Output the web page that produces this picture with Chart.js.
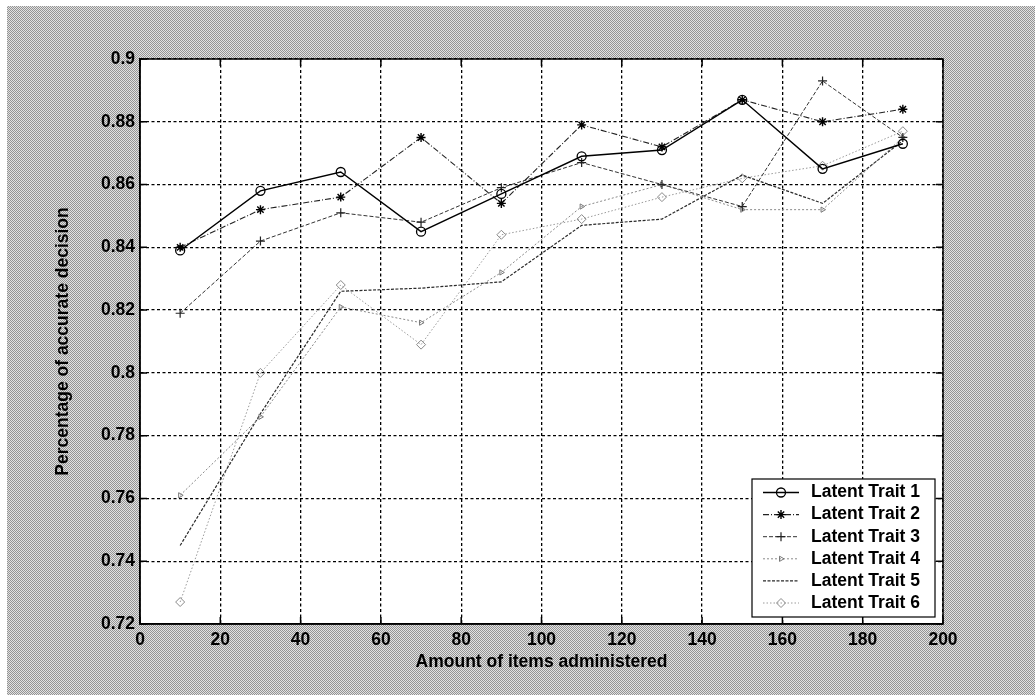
<!DOCTYPE html>
<html>
<head>
<meta charset="utf-8">
<script src="https://cdn.jsdelivr.net/npm/chart.js"></script>
<style>
html, body { margin: 0; padding: 0; background: #fff; }
#wrap { position: relative; width: 1035px; height: 695px; overflow: hidden; }
#bg {
  position: absolute; left: 7px; top: 6px; right: 0; bottom: 0;
  background-color: #b9b9b9;
  background-image: repeating-conic-gradient(#949494 0 25%, #e2e2e2 0 50%);
  background-size: 2px 2px;
}
canvas { position: absolute; left: 0; top: 0; }
</style>
</head>
<body>
<div id="wrap"><div id="bg"></div><canvas id="chart" width="1035" height="695"></canvas></div>
<script>
// values
const xValues = [10, 30, 50, 70, 90, 110, 130, 150, 170, 190];
const trait1 = [0.839, 0.858, 0.864, 0.845, 0.857, 0.869, 0.871, 0.887, 0.865, 0.873];
const trait2 = [0.840, 0.852, 0.856, 0.875, 0.854, 0.879, 0.872, 0.887, 0.880, 0.884];
const trait3 = [0.819, 0.842, 0.851, 0.848, 0.859, 0.867, 0.860, 0.853, 0.893, 0.875];
const trait4 = [0.761, 0.786, 0.821, 0.816, 0.832, 0.853, 0.860, 0.852, 0.852, 0.875];
const trait5 = [0.745, 0.787, 0.826, 0.827, 0.829, 0.847, 0.849, 0.863, 0.854, 0.874];
const trait6 = [0.727, 0.800, 0.828, 0.809, 0.844, 0.849, 0.856, 0.862, 0.866, 0.877];
const seriesLabels = ['Latent Trait 1', 'Latent Trait 2', 'Latent Trait 3', 'Latent Trait 4', 'Latent Trait 5', 'Latent Trait 6'];
const xTicks = [0, 20, 40, 60, 80, 100, 120, 140, 160, 180, 200];
const yTicks = [0.72, 0.74, 0.76, 0.78, 0.8, 0.82, 0.84, 0.86, 0.88, 0.9];

const FONT = { family: '"Liberation Sans", Arial, sans-serif', size: 17.5, weight: 'bold' };

function pts(arr) {
  return xValues.map((x, i) => ({ x: x, y: arr[i] }));
}

// white plot area, frame and inward ticks like matlab
const frame = {
  id: 'frame',
  beforeDraw(chart) {
    const { ctx, chartArea: a } = chart;
    ctx.save();
    ctx.fillStyle = '#fff';
    ctx.fillRect(a.left, a.top, a.width, a.height);
    ctx.restore();
  },
  afterDatasetsDraw(chart) {
    const { ctx, chartArea: a, scales } = chart;
    ctx.save();
    ctx.strokeStyle = '#000';
    ctx.lineWidth = 1.5;
    ctx.strokeRect(a.left, a.top, a.width, a.height);
    ctx.beginPath();
    xTicks.forEach(v => {
      const px = scales.x.getPixelForValue(v);
      ctx.moveTo(px, a.bottom); ctx.lineTo(px, a.bottom - 7);
      ctx.moveTo(px, a.top); ctx.lineTo(px, a.top + 7);
    });
    yTicks.forEach(v => {
      const py = scales.y.getPixelForValue(v);
      ctx.moveTo(a.left, py); ctx.lineTo(a.left + 7, py);
      ctx.moveTo(a.right, py); ctx.lineTo(a.right - 7, py);
    });
    ctx.stroke();
    ctx.restore();
  }
};

// legend box in lower right corner, line sample + marker
const boxLegend = {
  id: 'boxLegend',
  afterDraw(chart) {
    const { ctx, chartArea: a } = chart;
    const w = 183, h = 138;
    const left = a.right - 8 - w, top = a.bottom - 7 - h;
    ctx.save();
    ctx.fillStyle = '#fff';
    ctx.fillRect(left, top, w, h);
    ctx.strokeStyle = '#000';
    ctx.lineWidth = 1.2;
    ctx.strokeRect(left, top, w, h);
    chart.data.datasets.forEach((ds, i) => {
      const cy = top + 13.5 + i * 22.1;
      ctx.save();
      ctx.strokeStyle = ds.borderColor;
      ctx.lineWidth = ds.borderWidth;
      ctx.setLineDash(ds.borderDash || []);
      ctx.beginPath();
      ctx.moveTo(left + 11, cy);
      ctx.lineTo(left + 47, cy);
      ctx.stroke();
      ctx.setLineDash([]);
      if (ds.pointRadius > 0) {
        ctx.strokeStyle = ds.pointBorderColor;
        ctx.fillStyle = ds.pointBackgroundColor;
        ctx.lineWidth = ds.pointBorderWidth;
        Chart.helpers.drawPoint(ctx, {
          pointStyle: ds.pointStyle, rotation: ds.pointRotation || 0,
          radius: ds.pointRadius, borderWidth: ds.pointBorderWidth
        }, left + 29, cy);
      }
      ctx.restore();
      ctx.fillStyle = '#000';
      ctx.font = 'bold 17.5px "Liberation Sans", Arial, sans-serif';
      ctx.textBaseline = 'middle';
      ctx.fillText(ds.label, left + 59, cy);
    });
    ctx.restore();
  }
};

new Chart(document.getElementById('chart'), {
  type: 'line',
  data: {
    datasets: [
      { label: seriesLabels[0], data: pts(trait1), borderColor: '#000', borderWidth: 1.4,
        pointStyle: 'circle', pointRadius: 4.5, pointBorderColor: '#000', pointBackgroundColor: 'transparent', pointBorderWidth: 1.3 },
      { label: seriesLabels[1], data: pts(trait2), borderColor: '#222', borderWidth: 1.1, borderDash: [6, 2, 1, 2],
        pointStyle: 'star', pointRadius: 4.5, pointBorderColor: '#000', pointBackgroundColor: 'transparent', pointBorderWidth: 1.4 },
      { label: seriesLabels[2], data: pts(trait3), borderColor: '#333', borderWidth: 1, borderDash: [4, 2],
        pointStyle: 'cross', pointRadius: 4.5, pointBorderColor: '#222', pointBackgroundColor: 'transparent', pointBorderWidth: 1.2 },
      { label: seriesLabels[3], data: pts(trait4), borderColor: '#8a8a8a', borderWidth: 1, borderDash: [2, 2],
        pointStyle: 'triangle', pointRotation: 90, pointRadius: 3, pointBorderColor: '#777', pointBackgroundColor: 'transparent', pointBorderWidth: 1 },
      { label: seriesLabels[4], data: pts(trait5), borderColor: '#2a2a2a', borderWidth: 1.2, borderDash: [3, 1.5],
        pointRadius: 0, pointBorderColor: '#2a2a2a', pointBackgroundColor: 'transparent', pointBorderWidth: 1 },
      { label: seriesLabels[5], data: pts(trait6), borderColor: '#9a9a9a', borderWidth: 1, borderDash: [1.5, 2],
        pointStyle: 'rectRot', pointRadius: 4.5, pointBorderColor: '#8a8a8a', pointBackgroundColor: 'transparent', pointBorderWidth: 1 }
    ]
  },
  options: {
    responsive: false,
    animation: false,
    devicePixelRatio: 1,
    layout: { padding: { left: 0, right: 92, top: 59, bottom: 0 } },
    plugins: { legend: { display: false }, tooltip: { enabled: false } },
    scales: {
      x: {
        type: 'linear', min: 0, max: 200,
        afterBuildTicks: s => { s.ticks = xTicks.map(v => ({ value: v })); },
        afterFit: s => { s.height = 71; },
        grid: { color: '#000', lineWidth: 1.3, drawTicks: false },
        border: { color: '#000', width: 1.5, dash: [3, 2.5] },
        ticks: { color: '#000', padding: 6, font: FONT, maxRotation: 0, autoSkip: false },
        title: { display: true, text: 'Amount of items administered', color: '#000', font: FONT, padding: { top: 0, bottom: 22 } }
      },
      y: {
        type: 'linear', min: 0.72, max: 0.9,
        afterBuildTicks: s => { s.ticks = yTicks.map(v => ({ value: v })); },
        afterFit: s => { s.width = 140; },
        grid: { color: '#000', lineWidth: 1.3, drawTicks: false },
        border: { color: '#000', width: 1.5, dash: [3, 2.5] },
        ticks: { color: '#000', padding: 5, font: FONT, callback: v => String(+v.toFixed(2)) },
        title: { display: true, text: 'Percentage of accurate decision', color: '#000', font: FONT, padding: { top: 53, bottom: 0 } }
      }
    }
  },
  plugins: [frame, boxLegend]
});
</script>
</body>
</html>
